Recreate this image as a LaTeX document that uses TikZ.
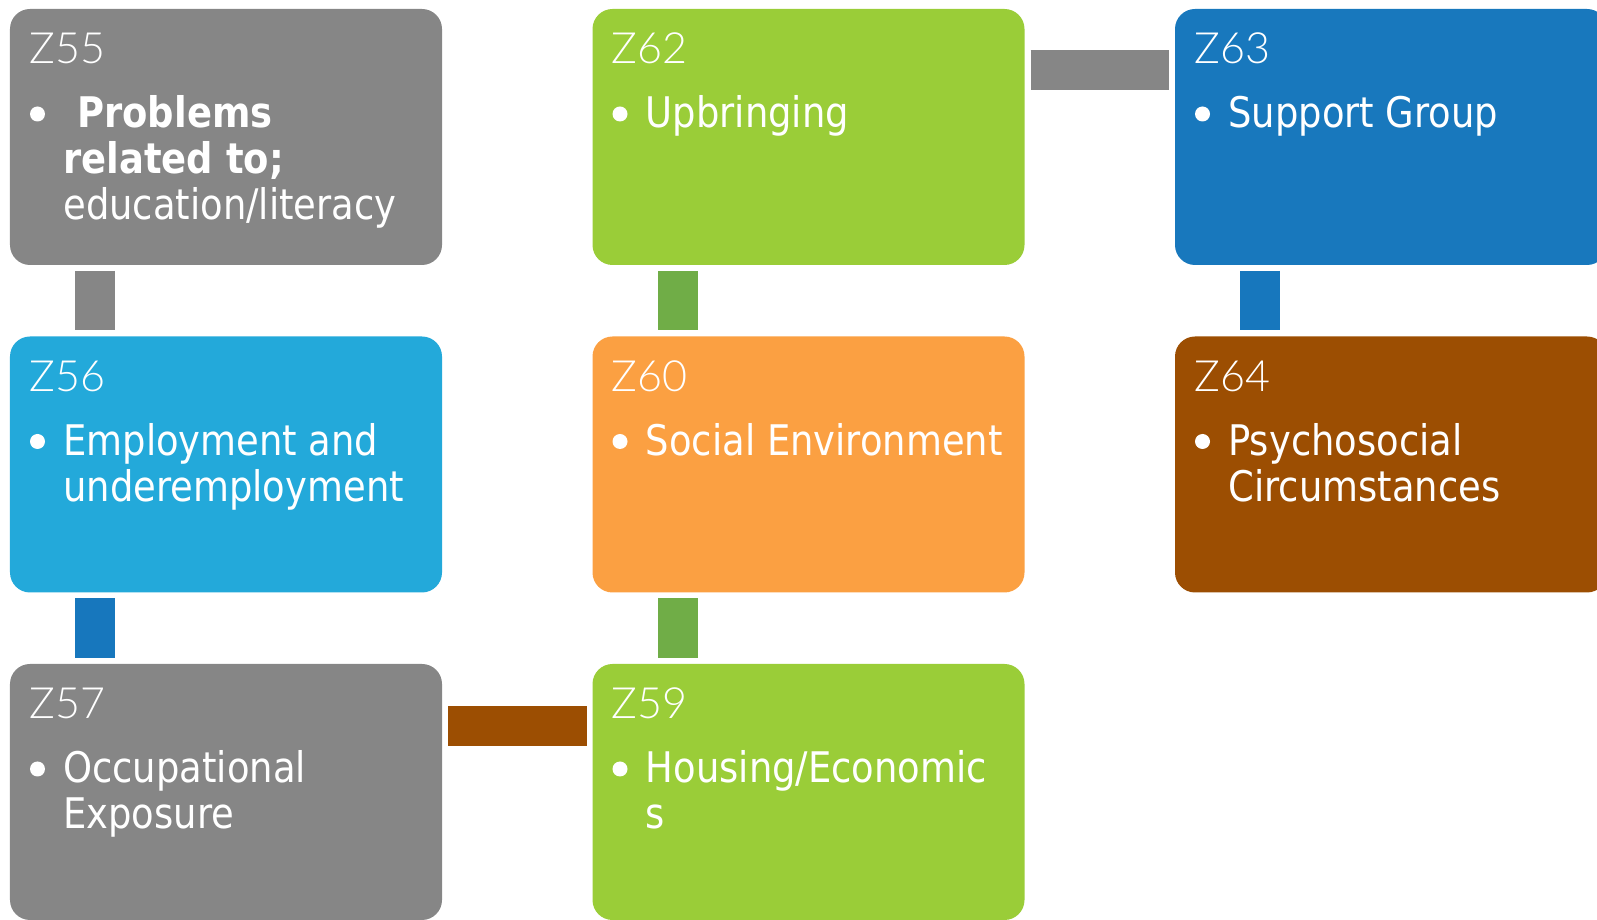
\documentclass[tikz,border=0pt]{standalone}
\usepackage{fontspec}
\setmainfont{DejaVu Sans}[FakeStretch=0.875]
\newfontfamily\codefont{Lato Light}
\usetikzlibrary{positioning}

\definecolor{boxgray}{HTML}{868686}
\definecolor{boxgreen}{HTML}{9ACD38}
\definecolor{boxblue}{HTML}{1878BD}
\definecolor{boxcyan}{HTML}{23A9DA}
\definecolor{boxorange}{HTML}{FBA042}
\definecolor{boxbrown}{HTML}{9C4E02}
\definecolor{linkgreen}{HTML}{70AD47}
\definecolor{linkblue}{HTML}{1777BD}

% lines of a bullet, hanging from the first baseline
\newcommand{\itemlines}[1]{\begin{tabular}[t]{@{}l@{}}#1\end{tabular}}

\begin{document}
\begin{tikzpicture}[box/.style={rounded corners=0.4cm, minimum width=8.64cm, minimum height=5.12cm, inner sep=0pt, outer sep=0pt},
    code/.style={anchor=base west, inner sep=0pt, text=white, font=\codefont\fontsize{24.5}{26}\selectfont},
    item/.style={anchor=base west, inner sep=0pt, text=white, font=\fontsize{24}{26}\selectfont},
    link/.style={line width=0.8cm},
    node distance=1.43cm and 3.01cm]
  \useasboundingbox (0,0) rectangle (31.94,-18.4);
  \clip (0,0) rectangle (31.94,-18.4);

  % the eight code boxes
  \node [box, fill=boxgray, anchor=north west] (z55) at (0.2,-0.18) {};
  \node [box, fill=boxcyan, below=of z55] (z56) {};
  \node [box, fill=boxgray, below=of z56] (z57) {};
  \node [box, fill=boxgreen, right=of z55] (z62) {};
  \node [box, fill=boxorange, below=of z62] (z60) {};
  \node [box, fill=boxgreen, below=of z60] (z59) {};
  \node [box, fill=boxblue, right=of z62] (z63) {};
  \node [box, fill=boxbrown, below=of z63] (z64) {};

  % bars between the boxes
  \draw [link, boxgray] ([xshift=1.7cm, yshift=-0.12cm]z55.south west) -- ([xshift=1.7cm, yshift=0.12cm]z56.north west);
  \draw [link, linkblue] ([xshift=1.7cm, yshift=-0.12cm]z56.south west) -- ([xshift=1.7cm, yshift=0.12cm]z57.north west);
  \draw [link, linkgreen] ([xshift=1.7cm, yshift=-0.12cm]z62.south west) -- ([xshift=1.7cm, yshift=0.12cm]z60.north west);
  \draw [link, linkgreen] ([xshift=1.7cm, yshift=-0.12cm]z60.south west) -- ([xshift=1.7cm, yshift=0.12cm]z59.north west);
  \draw [link, linkblue] ([xshift=1.7cm, yshift=-0.12cm]z63.south west) -- ([xshift=1.7cm, yshift=0.12cm]z64.north west);
  \draw [link, boxgray] ([xshift=0.12cm, yshift=-1.22cm]z62.north east) -- ([xshift=-0.12cm, yshift=-1.22cm]z63.north west);
  \draw [link, boxbrown] ([xshift=0.12cm, yshift=-1.24cm]z57.north east) -- ([xshift=-0.12cm, yshift=-1.24cm]z59.north west);

  % codes and bullets
  \foreach \b/\c in {z55/Z55, z56/Z56, z57/Z57, z62/Z62, z60/Z60, z59/Z59, z63/Z63, z64/Z64} {
    \node [code] (\b-code) at ([shift={(0.38,-1.1)}]\b.north west) {\c};
    \fill [white] ([shift={(0.55,-2.1)}]\b.north west) circle (0.15cm);
  }

  \node [item] (z55-text) at ([shift={(1.06,-2.38)}]z55.north west) {\itemlines{\hspace*{0.28cm}\textbf{Problems}\\\textbf{related to;}\\education/literacy}};
  \node [item] (z56-text) at ([shift={(1.06,-2.38)}]z56.north west) {\itemlines{Employment and\\underemployment}};
  \node [item] (z57-text) at ([shift={(1.06,-2.38)}]z57.north west) {\itemlines{Occupational\\Exposure}};
  \node [item] (z62-text) at ([shift={(1.06,-2.38)}]z62.north west) {Upbringing};
  \node [item] (z60-text) at ([shift={(1.06,-2.38)}]z60.north west) {Social Environment};
  \node [item] (z59-text) at ([shift={(1.06,-2.38)}]z59.north west) {\itemlines{Housing/Economic\\s}};
  \node [item] (z63-text) at ([shift={(1.06,-2.38)}]z63.north west) {Support Group};
  \node [item] (z64-text) at ([shift={(1.06,-2.38)}]z64.north west) {\itemlines{Psychosocial\\Circumstances}};
\end{tikzpicture}
\end{document}
